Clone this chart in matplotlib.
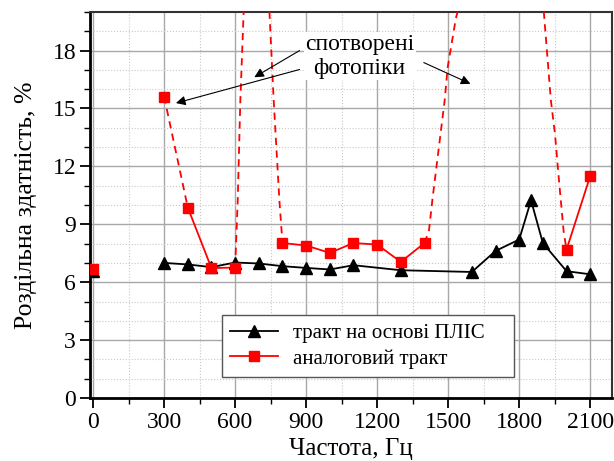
import numpy as np
import matplotlib
matplotlib.use("Agg")
import matplotlib.pyplot as plt
from matplotlib.ticker import MultipleLocator

plt.rcParams['font.family'] = ['Liberation Serif', 'DejaVu Serif']

# FPGA-based path
fpga_freq = [0, 300, 400, 500, 600, 700, 800, 900, 1000, 1100, 1300, 1600, 1700, 1800, 1850, 1900, 2000, 2100]
fpga_res = [6.6, 7.0, 6.92, 6.78, 7.02, 6.97, 6.83, 6.74, 6.66, 6.88, 6.62, 6.53, 7.62, 8.21, 10.24, 8.03, 6.57, 6.41]

# analog path (measured points)
analog_freq = [0, 300, 400, 500, 600, 800, 900, 1000, 1100, 1200, 1300, 1400, 2000, 2100]
analog_res = [6.66, 15.62, 9.87, 6.73, 6.76, 8.03, 7.9, 7.52, 8.03, 7.95, 7.05, 8.03, 7.69, 11.5]

# distorted photopeak traces (dashed)
peak1_freq = [600, 611, 622, 636, 690, 745, 763, 787, 800]
peak1_res = [6.76, 10.24, 15.4, 20.0, 30.0, 20.0, 15.4, 10.24, 8.03]
peak2_freq = [1400, 1419, 1433, 1485, 1498, 1532, 1600, 1880, 1904, 1934, 1951, 1968, 1988, 2000]
peak2_res = [8.03, 8.69, 10.24, 15.4, 17.14, 19.64, 23.0, 25.0, 20.0, 15.4, 13.7, 11.28, 8.6, 7.69]
drop_freq = [300, 400]
drop_res = [15.62, 9.87]

fig = plt.figure(figsize=(6.14, 4.61), dpi=100)
ax = fig.add_axes([90/614, 1-398/461, (612-90)/614, (398-12)/461])

red = '#ff0000'
# solid segments of analog path
ax.plot(analog_freq[2:5], analog_res[2:5], color=red, lw=1.3, zorder=3)
ax.plot(analog_freq[5:12], analog_res[5:12], color=red, lw=1.3, zorder=3)
ax.plot(analog_freq[12:], analog_res[12:], color=red, lw=1.3, zorder=3)
# dashed segments
dash = (0, (4, 3))
ax.plot(drop_freq, drop_res, color=red, lw=1.3, linestyle=dash, zorder=3)
ax.plot(peak1_freq, peak1_res, color=red, lw=1.3, linestyle=dash, zorder=3)
ax.plot(peak2_freq, peak2_res, color=red, lw=1.3, linestyle=dash, zorder=3)

# FPGA path
ax.plot(fpga_freq[1:], fpga_res[1:], color='black', lw=1.3, zorder=4)
ax.plot(fpga_freq, fpga_res, color='black', lw=0, marker='^', markersize=8, zorder=4)
ax.plot(analog_freq, analog_res, color=red, lw=0, marker='s', markersize=7.5, zorder=5)

# legend handles
h1, = ax.plot([], [], color='black', lw=1.3, marker='^', markersize=8)
h2, = ax.plot([], [], color=red, lw=1.3, marker='s', markersize=7)
leg = fig.legend([h1, h2], ['тракт на основі ПЛІС', 'аналоговий тракт'],
                 loc='upper left', bbox_to_anchor=(222/614, 1-315/461, 292/614, 0),
                 mode='expand', borderaxespad=0,
                 fontsize=15, fancybox=False, framealpha=1, edgecolor='#555555',
                 handlelength=2.3, borderpad=0.4, labelspacing=0.3, handletextpad=0.7)
leg.get_frame().set_linewidth(1.0)

ax.set_xlim(-13, 2192)
ax.set_ylim(0, 20)
ax.xaxis.set_major_locator(MultipleLocator(300))
ax.xaxis.set_minor_locator(MultipleLocator(150))
ax.yaxis.set_major_locator(MultipleLocator(3))
ax.yaxis.set_minor_locator(MultipleLocator(1))
ax.grid(which='major', color='#a8a8a8', lw=1.0, linestyle='-')
ax.grid(which='minor', color='#c8c8c8', lw=0.8, linestyle=':')
ax.set_axisbelow(True)
ax.tick_params(which='major', direction='out', length=7, width=1.3, labelsize=17, pad=3)
ax.tick_params(which='minor', direction='out', length=4, width=1.0)
for s in ['left', 'bottom']:
    ax.spines[s].set_linewidth(2.0)
for s in ['top', 'right']:
    ax.spines[s].set_linewidth(1.5)
    ax.spines[s].set_color('#333333')

ax.set_xlabel('Частота, Гц', fontsize=18, labelpad=4)
ax.set_ylabel('Роздільна здатність, %', fontsize=18.5, labelpad=11)

ax.text(1126, 17.7, 'спотворені\nфотопіки', ha='center', va='center', fontsize=17,
        linespacing=1.2, zorder=6,
        bbox=dict(facecolor='white', edgecolor='none', pad=1))
ap = dict(arrowstyle='-|>', color='black', lw=0.8, mutation_scale=14, shrinkA=0, shrinkB=0)
ax.annotate('', xy=(681, 16.62), xytext=(872, 18.0), arrowprops=ap, zorder=7)
ax.annotate('', xy=(350, 15.28), xytext=(872, 17.02), arrowprops=ap, zorder=7)
ax.annotate('', xy=(1594, 16.28), xytext=(1397, 17.38), arrowprops=ap, zorder=7)

fig.savefig('out.png', dpi=100)
